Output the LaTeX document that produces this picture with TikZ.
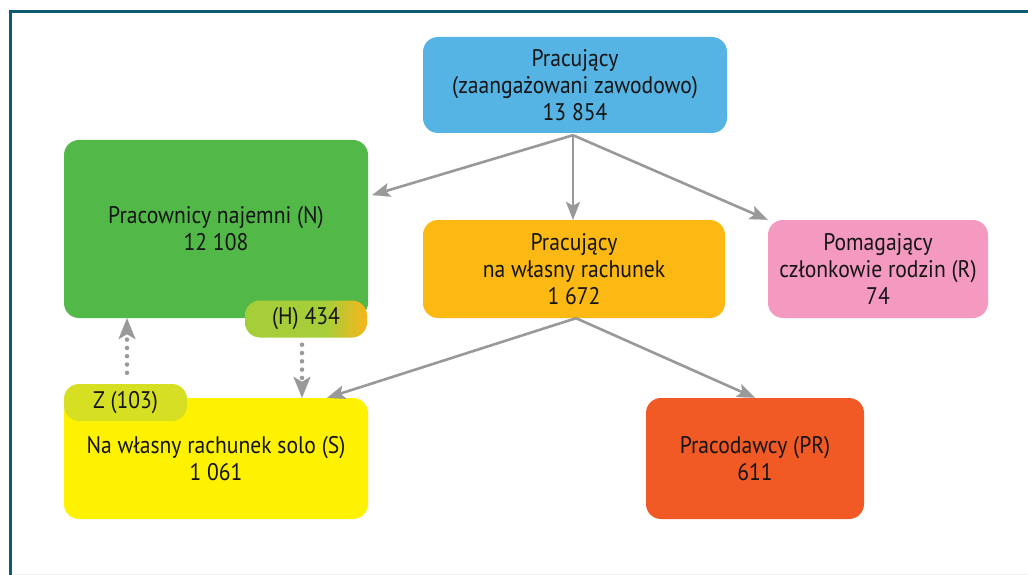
\documentclass[tikz,border=0pt]{standalone}
\usepackage{fontspec}
\setmainfont{PT Sans}[FakeStretch=0.9]
\usetikzlibrary{arrows.meta,calc}

\definecolor{frameteal}{RGB}{14,90,112}
\definecolor{cblue}{RGB}{85,180,228}
\definecolor{cgreen}{RGB}{82,184,72}
\definecolor{corange}{RGB}{253,185,19}
\definecolor{cpink}{RGB}{244,154,193}
\definecolor{cyellow}{RGB}{255,242,0}
\definecolor{cred}{RGB}{241,90,36}
\definecolor{czpill}{RGB}{215,223,35}
\definecolor{hgreen}{RGB}{166,206,57}
\definecolor{horange}{RGB}{247,181,27}
\definecolor{cgray}{RGB}{153,153,153}
\definecolor{ctext}{RGB}{20,20,20}

% green-to-orange fill of the (H) pill, orange only towards the right end
\pgfdeclarehorizontalshading{hpill}{100bp}{color(0bp)=(hgreen); color(25bp)=(hgreen);
  color(58bp)=(hgreen); color(75bp)=(horange); color(100bp)=(horange)}

\tikzset{
  box/.style={rounded corners=15pt, align=center, text=ctext, inner sep=0pt,
    font=\fontsize{24}{27}\selectfont},
  pill/.style={rounded corners=15pt, align=center, text=ctext, inner sep=0pt,
    font=\fontsize{24}{27}\selectfont, minimum height=37pt},
  link/.style={draw=cgray, line width=2.6pt,
    -{Stealth[length=18pt,width=14pt,inset=4pt,line width=0.1pt]}},
  dotlink/.style={draw=cgray, line width=4.5pt, line cap=round, dash pattern=on 0pt off 8.3pt,
    -{Stealth[length=21pt,width=17pt,inset=5pt,line width=0.1pt]}},
}

\begin{document}
\begin{tikzpicture}[x=1pt,y=-1pt]
  \useasboundingbox (0,0) rectangle (1028,575);
  \fill[white] (0,0) rectangle (1028,575);

  % frame
  \fill[frameteal] (9,10) rectangle (1028,13);
  \fill[frameteal] (9,10) rectangle (12,575);
  \fill[black!6] (12,573.5) rectangle (1028,575);

  % boxes
  \node[box, fill=cblue, minimum width=304pt, minimum height=96pt] (work) at (575,85)
    {Pracujący\\(zaangażowani zawodowo)\\13 854};
  \node[box, fill=cgreen, minimum width=304pt, minimum height=178pt] (empl) at (216,229)
    {Pracownicy najemni (N)\\12 108};
  \node[box, fill=corange, minimum width=302pt, minimum height=98pt] (self) at (574,269)
    {Pracujący\\na własny rachunek\\1 672};
  \node[box, fill=cpink, minimum width=220pt, minimum height=98pt] (help) at (878,269)
    {Pomagający\\członkowie rodzin (R)\\74};
  \node[box, fill=cyellow, minimum width=304pt, minimum height=121pt] (solo) at (216,458.5)
    {Na własny rachunek solo (S)\\1 061};
  \node[box, fill=cred, minimum width=218pt, minimum height=121pt] (boss) at (755,458.5)
    {Pracodawcy (PR)\\611};

  % small labels sitting on the box edges
  \node[pill, shading=hpill, minimum width=122pt] (hyb) at (306,319) {(H) 434};
  \node[pill, fill=czpill, minimum width=123pt] (zz) at (125.5,402.5) {Z (103)};

  % connectors
  \coordinate (top) at ($(work.south)+(-2,2)$);
  \draw[link] (top) -- ($(empl.north east)!0.31!(empl.south east)+(4,0)$);
  \draw[link] (top) -- (top |- self.north);
  \draw[link] (top) -- (help.north west);
  \coordinate (mid) at ($(self.south)+(2,0)$);
  \draw[link] (mid) -- ($(solo.north east)+(-41,0)$);
  \draw[link] (mid) -- (boss.north);

  % dotted links between the pills and the boxes
  \coordinate (zfrom) at ($(zz.north)+(1.5,-11)$);
  \coordinate (hfrom) at ($(hyb.south)+(-4,7)$);
  \draw[dotlink] (zfrom) -- (zfrom |- empl.south);
  \draw[dotlink] (hfrom) -- (hfrom |- solo.north);
\end{tikzpicture}
\end{document}
